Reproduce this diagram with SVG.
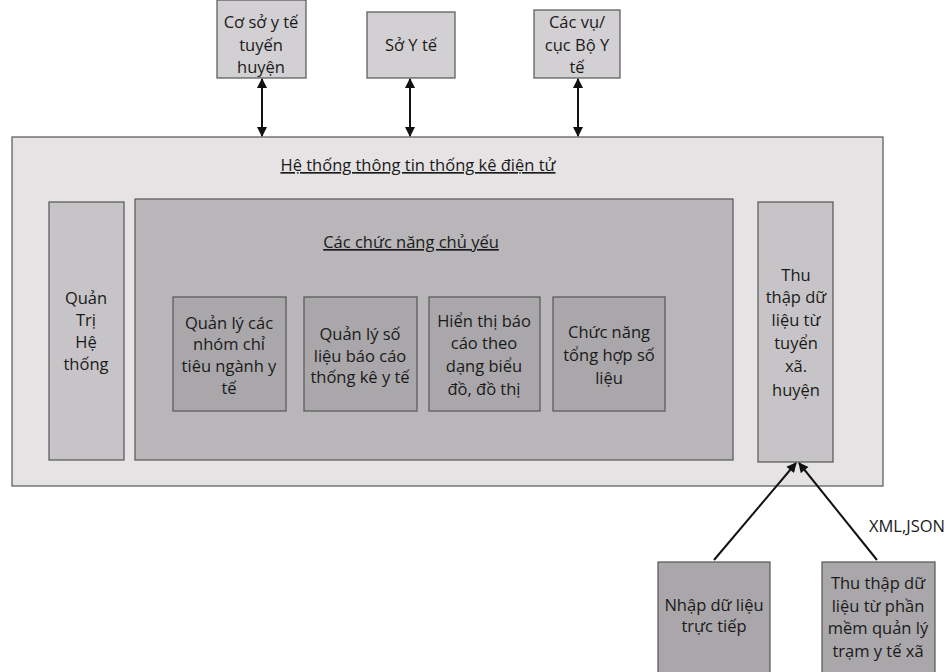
<svg xmlns="http://www.w3.org/2000/svg" width="948" height="672" viewBox="0 0 948 672">
<defs>
<marker id="ah" viewBox="0 0 10 10" refX="9" refY="5" markerWidth="11" markerHeight="10" markerUnits="userSpaceOnUse" orient="auto-start-reverse">
<path d="M0,0 L10,5 L0,10 z" fill="#111"/>
</marker>
<style>
.t{font-family:"Open Sans","Noto Sans",sans-serif;font-size:16.5px;fill:#1a1a1a;text-anchor:middle}
.u{text-decoration:underline}
.bx{stroke:#555;stroke-width:1.2}
.c{stroke:#111;stroke-width:2;fill:none}
</style>
</defs>
<rect width="948" height="672" fill="#ffffff"/>
<g id="outer">
<rect class="bx" x="12" y="137" width="871" height="349" fill="#e6e3e5"/>
<text class="t u" x="418" y="171">Hệ thống thông tin thống kê điện tử</text>
</g>
<g id="quantri">
<rect class="bx" x="49" y="202" width="75" height="258" fill="#c6c4c6"/>
<text class="t" x="86" y="304">Quản</text>
<text class="t" x="86" y="326">Trị</text>
<text class="t" x="86" y="348">Hệ</text>
<text class="t" x="86" y="370">thống</text>
</g>
<g id="chucnang">
<rect class="bx" x="135" y="199" width="598" height="261" fill="#b8b6b8"/>
<text class="t u" x="411" y="248">Các chức năng chủ yếu</text>
</g>
<g id="f1">
<rect class="bx" x="173" y="297" width="113" height="114" fill="#a9a7a9"/>
<text class="t" x="229" y="329">Quản lý các</text>
<text class="t" x="229" y="350">nhóm chỉ</text>
<text class="t" x="229" y="372">tiêu ngành y</text>
<text class="t" x="229" y="394">tế</text>
</g>
<g id="f2">
<rect class="bx" x="304" y="297" width="113" height="114" fill="#a9a7a9"/>
<text class="t" x="360" y="340">Quản lý số</text>
<text class="t" x="360" y="362">liệu báo cáo</text>
<text class="t" x="360" y="383">thống kê y tế</text>
</g>
<g id="f3">
<rect class="bx" x="429" y="297" width="111" height="114" fill="#a9a7a9"/>
<text class="t" x="484" y="327">Hiển thị báo</text>
<text class="t" x="484" y="349">cáo theo</text>
<text class="t" x="484" y="372">dạng biểu</text>
<text class="t" x="484" y="395">đồ, đồ thị</text>
</g>
<g id="f4">
<rect class="bx" x="553" y="297" width="112" height="114" fill="#a9a7a9"/>
<text class="t" x="609" y="338">Chức năng</text>
<text class="t" x="609" y="361">tổng hợp số</text>
<text class="t" x="609" y="384">liệu</text>
</g>
<g id="thuthap">
<rect class="bx" x="758" y="202" width="75" height="260" fill="#c6c4c6"/>
<text class="t" x="796" y="281">Thu</text>
<text class="t" x="796" y="303">thập dữ</text>
<text class="t" x="796" y="326">liệu từ</text>
<text class="t" x="796" y="349">tuyển</text>
<text class="t" x="796" y="372">xã.</text>
<text class="t" x="796" y="396">huyện</text>
</g>
<g id="cosoyte">
<rect class="bx" x="217" y="0" width="89" height="78" fill="#d2d0d2"/>
<text class="t" x="261" y="28">Cơ sở y tế</text>
<text class="t" x="261" y="51">tuyến</text>
<text class="t" x="261" y="73">huyện</text>
</g>
<g id="soyte">
<rect class="bx" x="367" y="12" width="88" height="66" fill="#d2d0d2"/>
<text class="t" x="411" y="51">Sở Y tế</text>
</g>
<g id="boyte">
<rect class="bx" x="534" y="10" width="86" height="68" fill="#d2d0d2"/>
<text class="t" x="577" y="28">Các vụ/</text>
<text class="t" x="577" y="51">cục Bộ Y</text>
<text class="t" x="577" y="73">tế</text>
</g>
<g id="nhap">
<rect class="bx" x="658" y="562" width="112" height="115" fill="#a9a7a9"/>
<text class="t" x="714" y="611">Nhập dữ liệu</text>
<text class="t" x="714" y="632">trực tiếp</text>
</g>
<g id="phanmem">
<rect class="bx" x="822" y="562" width="113" height="115" fill="#a9a7a9"/>
<text class="t" x="878" y="589">Thu thập dữ</text>
<text class="t" x="878" y="612">liệu từ phần</text>
<text class="t" x="878" y="634">mềm quản lý</text>
<text class="t" x="878" y="657">trạm y tế xã</text>
</g>
<g id="connectors">
<line class="c" x1="262" y1="79" x2="262" y2="136" marker-start="url(#ah)" marker-end="url(#ah)"/>
<line class="c" x1="410" y1="79" x2="410" y2="136" marker-start="url(#ah)" marker-end="url(#ah)"/>
<line class="c" x1="578" y1="79" x2="578" y2="136" marker-start="url(#ah)" marker-end="url(#ah)"/>
<line class="c" x1="714" y1="560" x2="796" y2="463" marker-end="url(#ah)"/>
<line class="c" x1="877" y1="560" x2="799" y2="463" marker-end="url(#ah)"/>
<text class="t" x="945" y="532" style="text-anchor:end">XML,JSON</text>
</g>
</svg>
